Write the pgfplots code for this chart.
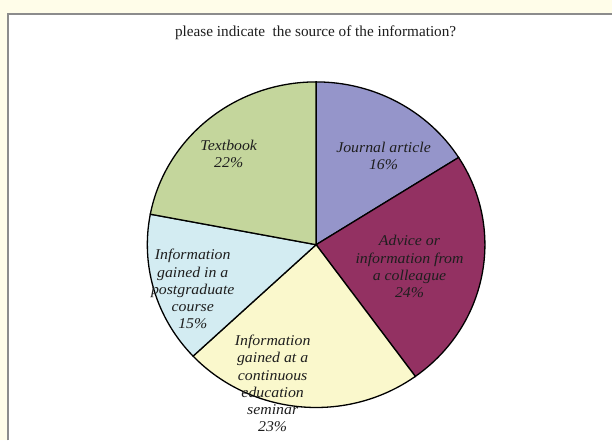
\documentclass[border=0pt]{standalone}
\usepackage{pgfplots}
\usepackage{pgfplotstable}
\pgfplotsset{compat=1.18}
\usepackage{fontspec}
\setmainfont{Liberation Serif}
\newfontfamily\lblfont[FakeStretch=1.06]{Liberation Serif}

\definecolor{bgcream}{HTML}{FFFDE9}
\definecolor{boxgray}{HTML}{8C8C8C}
\definecolor{cJour}{HTML}{9595CA}
\definecolor{cAdv}{HTML}{933162}
\definecolor{cSem}{HTML}{FAF8CC}
\definecolor{cPost}{HTML}{D3ECF2}
\definecolor{cText}{HTML}{C4D69C}
\definecolor{txt}{HTML}{1E1E1E}

% shares in percent, clockwise from 12 o'clock
\pgfplotstableread[col sep=comma]{
share,col
16,cJour
24,cAdv
23,cSem
15,cPost
22,cText
}\piedata

\begin{document}
\begin{tikzpicture}
\begin{axis}[
    hide axis,
    scale only axis,
    width=613bp, height=441bp,
    xmin=0, xmax=613, ymin=0, ymax=441,
    clip=false,
]
% page background and white chart area
\fill[bgcream] (axis cs:0,0) rectangle (axis cs:613,441);
\fill[white] (axis cs:8,0) rectangle (axis cs:613,427);
\draw[boxgray, line width=1.5bp] (axis cs:8,0) -- (axis cs:8,427) -- (axis cs:613,427);

% slices
\pgfplotstablegetrowsof{\piedata}
\pgfmathtruncatemacro\nrows{\pgfplotsretval-1}
\def\startang{90}
\pgfplotsforeachungrouped \i in {0,...,\nrows}{
    \pgfplotstablegetelem{\i}{share}\of\piedata
    \let\sh\pgfplotsretval
    \pgfplotstablegetelem{\i}{col}\of\piedata
    \let\cl\pgfplotsretval
    \pgfmathsetmacro\endang{\startang-3.6*\sh}
    \edef\temp{\noexpand\filldraw[fill=\cl, draw=black, line width=1.3bp]
        (axis cs:316.5,196) -- ++(\startang:169bp and 163bp)
        arc[start angle=\startang, end angle=\endang, x radius=169bp, y radius=163bp]
        -- cycle;}
    \temp
    \let\startang\endang
}

% labels
\node[txt, font=\fontsize{15.3}{17}\selectfont] at (axis cs:316,408) {please indicate\ \ the source of the information?};
\tikzset{lbl/.style={txt, align=center, font=\lblfont\fontsize{15}{17.3}\selectfont\itshape}}
\node[lbl] at (axis cs:229,287) {Textbook\\22\%};
\node[lbl] at (axis cs:384,284.5) {Journal article\\16\%};
\node[lbl] at (axis cs:410,174) {Advice or\\information from\\a colleague\\24\%};
\node[lbl] at (axis cs:193,151.5) {Information\\gained in a\\postgraduate\\course\\15\%};
\node[lbl] at (axis cs:273,57) {Information\\gained at a\\continuous\\education\\seminar\\23\%};
\end{axis}
\end{tikzpicture}
\end{document}
